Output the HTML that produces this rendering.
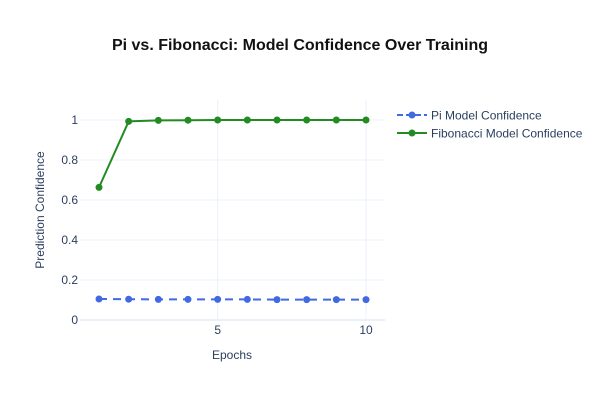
<!DOCTYPE html>
<html><head><meta charset="utf-8"><style>
body{margin:0;background:#fff;font-family:"Liberation Sans",Arial,sans-serif}
svg text{font-family:"Liberation Sans",Arial,sans-serif}
</style></head><body>
<svg id="chart" width="600" height="400">
<rect width="600" height="400" fill="#fff"/>
<text x="300" y="50" text-anchor="middle" font-size="16" font-weight="bold" fill="#111">Pi vs. Fibonacci: Model Confidence Over Training</text>
<g id="grid"></g>
<g id="series"></g>
<text x="232" y="359" text-anchor="middle" font-size="12" fill="#2a3f5f">Epochs</text>
<text transform="translate(44,210) rotate(-90)" text-anchor="middle" font-size="12" fill="#2a3f5f">Prediction Confidence</text>
<g>
<g>
<line x1="397" y1="115" x2="427" y2="115" stroke="#4169e1" stroke-width="2" stroke-dasharray="6,3"/>
<circle cx="412" cy="115" r="3.5" fill="#4169e1"/>
<text x="431" y="119.5" font-size="12" fill="#2a3f5f">Pi Model Confidence</text></g>
<g>
<line x1="397" y1="133" x2="427" y2="133" stroke="#228b22" stroke-width="2"/>
<circle cx="412" cy="133" r="3.5" fill="#228b22"/>
<text x="431" y="137.5" font-size="12" fill="#2a3f5f">Fibonacci Model Confidence</text></g>
</g>
</svg>
<script>
const epochs=[1,2,3,4,5,6,7,8,9,10];
const piValues=[0.105,0.104,0.103,0.103,0.103,0.103,0.102,0.102,0.102,0.102];
const fibValues=[0.663,0.993,0.998,0.999,1,1,1,1,1,1];
const xTicks=[5,10];
const yTicks=[0,0.2,0.4,0.6,0.8,1];
const NS='http://www.w3.org/2000/svg';
const X=v=>99+(v-1)*(267/9);
const Y=v=>320-v*200;
function mk(t,a,p){const e=document.createElementNS(NS,t);for(const k in a)e.setAttribute(k,a[k]);p.appendChild(e);return e;}
const g=document.getElementById('grid');
yTicks.forEach(t=>{
 const l=mk('line',{x1:80,x2:385,y1:Y(t),y2:Y(t),stroke:'#ebf0f8','stroke-width':t===0?2:1},g);
 
 
 const tx=mk('text',{x:78,y:Y(t)+4,'text-anchor':'end','font-size':12,fill:'#2a3f5f'},g);
 tx.textContent=String(t);
 
 
});
xTicks.forEach(t=>{
 const l=mk('line',{x1:X(t),x2:X(t),y1:100,y2:320,stroke:'#ebf0f8','stroke-width':1},g);
 
 
 const tx=mk('text',{x:X(t),y:334,'text-anchor':'middle','font-size':12,fill:'#2a3f5f'},g);
 tx.textContent=String(t);
 
 
});
const s=document.getElementById('series');
function draw(vals,color,dash,name){
 const pts=epochs.map((e,i)=>X(e)+','+Y(vals[i])).join(' ');
 const pl=mk('polyline',{points:pts,fill:'none',stroke:color,'stroke-width':2},s);
 if(dash)pl.setAttribute('stroke-dasharray',dash);
 
 
 epochs.forEach((e,i)=>{
  const c=mk('circle',{cx:X(e),cy:Y(vals[i]),r:3.5,fill:color},s);
  
  
 });
}
draw(piValues,'#4169e1','8,6','pi');
draw(fibValues,'#228b22',null,'fibonacci');
</script>
</body></html>
